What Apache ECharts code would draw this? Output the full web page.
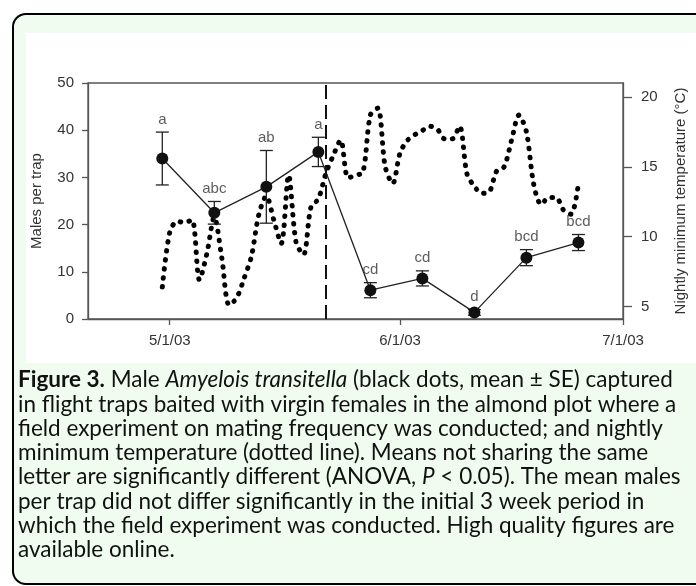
<!DOCTYPE html>
<html>
<head>
<meta charset="utf-8">
<script src="https://cdn.jsdelivr.net/npm/echarts@6/dist/echarts.min.js"></script>
<style>
html,body{margin:0;padding:0;background:#fff;}
#chart{width:696px;height:586px;}
</style>
</head>
<body>
<div id="chart"></div>
<script>
// ---- data ----
const trapDates = ['2003-04-30','2003-05-07','2003-05-14','2003-05-21','2003-05-28','2003-06-04','2003-06-11','2003-06-18','2003-06-25'];
const malesMean = [34.0, 22.5, 28.0, 35.4, 6.1, 8.6, 1.4, 13.0, 16.2];
const malesSE   = [5.6, 2.4, 7.7, 3.1, 1.6, 1.6, 0.6, 1.7, 1.7];
const sigLetters = ['a','abc','ab','a','cd','cd','d','bcd','bcd'];

const tempStart = '2003-04-30';
const tempMin = [6.4,10.3,11.1,11.0,11.2,6.9,8.8,11.4,8.5,5.1,5.6,7.0,8.6,11.6,12.9,11.2,9.5,14.4,9.6,8.7,
  12.1,12.7,14.5,15.8,16.9,14.2,14.4,14.6,18.7,19.2,15.0,13.8,16.0,16.9,17.3,17.6,17.9,17.7,17.0,17.0,
  17.9,14.5,13.6,13.1,13.2,14.7,15.0,16.9,18.7,17.5,13.7,12.3,12.8,12.8,11.9,11.6,13.8];

const xTickDates = ['2003-05-01','2003-06-01','2003-07-01'];
const xTickLabels = ['5/1/03','6/1/03','7/1/03'];
const rightTicks = [5,10,15,20];
const experimentDate = '2003-05-22';

const captionLines = [
  '{b|Figure 3.}{n| Male }{i|Amyelois transitella}{n| (black dots, mean ± SE) captured}',
  '{n|in flight traps baited with virgin females in the almond plot where a}',
  '{n|field experiment on mating frequency was conducted; and nightly}',
  '{n|minimum temperature (dotted line). Means not sharing the same}',
  '{n|letter are significantly different (ANOVA, }{i|P}{n| < 0.05). The mean males}',
  '{n|per trap did not differ significantly in the initial 3 week period in}',
  '{n|which the field experiment was conducted. High quality figures are}',
  '{n|available online.}'
];

// ---- helpers ----
const ts = s => { const [y,m,d] = s.split('-').map(Number); return Date.UTC(y, m-1, d); };
const [ty, tm, td] = tempStart.split('-').map(Number);
const tempData = tempMin.map((v, i) => [Date.UTC(ty, tm-1, td + i), v]);
const meanData = trapDates.map((d, i) => [ts(d), malesMean[i]]);
const errData = trapDates.map((d, i) => [ts(d), malesMean[i] - malesSE[i], malesMean[i] + malesSE[i]]);
const letterData = trapDates.map((d, i) => [ts(d), malesMean[i] + malesSE[i]]);

const axisColor = '#555';
const labelColor = '#333';
const capFont = 'Lato, "Noto Sans", sans-serif';
const capSize = 22.5;
const capLH = 24.3;

const chart = echarts.init(document.getElementById('chart'), null, {renderer: 'canvas'});
chart.setOption({
  animation: false,
  backgroundColor: '#fff',
  textStyle: {fontFamily: '"Liberation Sans", Arial, sans-serif'},
  graphic: [
    {type: 'rect', z: -10, shape: {x: 13, y: 14, width: 700, height: 570, r: 13},
     style: {fill: '#effcef', stroke: '#000', lineWidth: 2}},
    {type: 'rect', z: -9, shape: {x: 26, y: 33, width: 680, height: 330},
     style: {fill: '#fff'}},
    {type: 'text', z: 5, x: 18, y: 380 - capLH / 2,
     style: {
       text: captionLines.join('\n'),
       fill: '#111',
       font: capSize + 'px ' + capFont,
       lineHeight: capLH,
       rich: {
         b: {fontWeight: 'bold', fontSize: capSize, fontFamily: capFont, lineHeight: capLH, fill: '#111'},
         n: {fontSize: capSize, fontFamily: capFont, lineHeight: capLH, fill: '#111'},
         i: {fontStyle: 'italic', fontSize: capSize, fontFamily: capFont, lineHeight: capLH, fill: '#111'}
       }
     }}
  ],
  grid: {left: 88, right: 60, top: 83, bottom: 267, show: true, borderColor: axisColor, borderWidth: 1.3, backgroundColor: 'transparent'},
  xAxis: {
    type: 'value',
    min: ts('2003-04-20'), max: ts('2003-07-01'),
    axisLine: {show: true, lineStyle: {color: axisColor, width: 1.3}},
    axisTick: {show: true, length: 6, customValues: xTickDates.map(ts), lineStyle: {color: axisColor, width: 1.3}},
    axisLabel: {
      customValues: xTickDates.map(ts), margin: 14, color: labelColor, fontSize: 15,
      formatter: v => { const i = xTickDates.findIndex(d => ts(d) === v); return i >= 0 ? xTickLabels[i] : ''; }
    },
    splitLine: {show: false}
  },
  yAxis: [
    {
      type: 'value', min: 0, max: 50, interval: 10,
      name: 'Males per trap', nameLocation: 'middle', nameGap: 44,
      nameTextStyle: {fontSize: 15, color: labelColor},
      axisLine: {show: true, lineStyle: {color: axisColor, width: 1.3}},
      axisTick: {show: true, length: 6, lineStyle: {color: axisColor, width: 1.3}},
      axisLabel: {margin: 14, color: labelColor, fontSize: 15},
      splitLine: {show: false}
    },
    {
      type: 'value', min: 4.1, max: 21, position: 'right',
      name: 'Nightly minimum temperature (°C)', nameLocation: 'middle', nameGap: 50,
      nameTextStyle: {fontSize: 15, color: labelColor},
      axisLine: {show: true, lineStyle: {color: axisColor, width: 1.3}},
      axisTick: {show: true, length: 9, customValues: rightTicks, lineStyle: {color: axisColor, width: 1.3}},
      axisLabel: {customValues: rightTicks, margin: 18, color: labelColor, fontSize: 15},
      splitLine: {show: false}
    }
  ],
  series: [
    {
      name: 'Temperature', type: 'line', yAxisIndex: 1, data: tempData,
      showSymbol: false, smooth: 0.3, z: 2,
      lineStyle: {color: '#000', width: 5, type: [0.5, 8.5], cap: 'round'}
    },
    {
      name: 'SE', type: 'custom', data: errData, z: 3,
      encode: {x: 0, y: [1, 2]},
      renderItem: (params, api) => {
        const x = api.value(0);
        const lo = api.coord([x, api.value(1)]);
        const hi = api.coord([x, api.value(2)]);
        const w = 6.5;
        const st = {stroke: '#222', lineWidth: 1.3};
        return {type: 'group', children: [
          {type: 'line', shape: {x1: lo[0], y1: lo[1], x2: hi[0], y2: hi[1]}, style: st},
          {type: 'line', shape: {x1: lo[0]-w, y1: lo[1], x2: lo[0]+w, y2: lo[1]}, style: st},
          {type: 'line', shape: {x1: hi[0]-w, y1: hi[1], x2: hi[0]+w, y2: hi[1]}, style: st}
        ]};
      }
    },
    {
      name: 'Males', type: 'line', data: meanData, z: 4,
      symbol: 'circle', symbolSize: 12,
      itemStyle: {color: '#111'},
      lineStyle: {color: '#222', width: 1.3},
      markLine: {
        silent: true, symbol: 'none', label: {show: false},
        lineStyle: {color: '#111', width: 2, type: [14, 6]},
        data: [{xAxis: ts(experimentDate)}]
      }
    },
    {
      name: 'Letters', type: 'scatter', data: letterData, z: 5,
      symbolSize: 0,
      label: {show: true, position: 'top', distance: 5, color: labelColor, fontSize: 15,
        formatter: p => sigLetters[p.dataIndex]}
    }
  ]
});
</script>
</body>
</html>
